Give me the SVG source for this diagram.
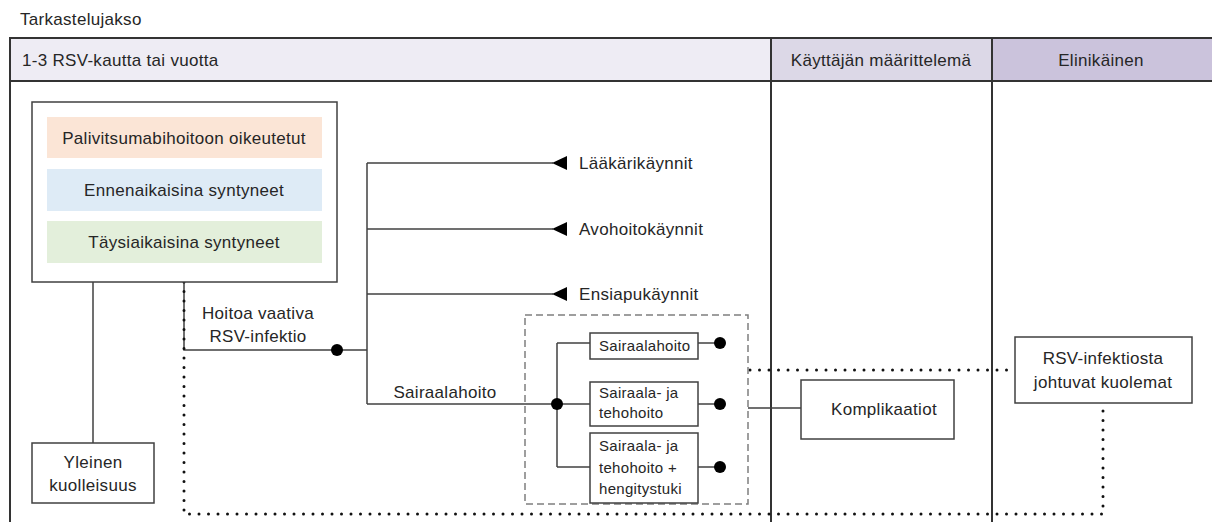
<svg xmlns="http://www.w3.org/2000/svg" width="1212" height="522" viewBox="0 0 1212 522">
<defs>
<style>
text{font-family:"Liberation Sans",Arial,sans-serif;font-size:17px;fill:#262626;letter-spacing:0.3px}
.sm{font-size:15px}
.c{text-anchor:middle}
.box{fill:#fff;stroke:#404040;stroke-width:1.5}
.ln{fill:none;stroke:#404040;stroke-width:1.5}
.tb{fill:none;stroke:#333;stroke-width:2}
.dot{fill:none;stroke:#111;stroke-width:3;stroke-linecap:round;stroke-dasharray:0 9.5}
.dash{fill:none;stroke:#7f7f7f;stroke-width:1.5;stroke-dasharray:7 4}
.end{fill:#000}
</style>
<marker id="tri" markerWidth="16" markerHeight="14" refX="1" refY="7" orient="auto" markerUnits="userSpaceOnUse">
<path d="M15,0 L0,7 L15,14 Z" fill="#000"/>
</marker>
</defs>

<text x="20" y="25">Tarkastelujakso</text>

<g id="table">
<rect x="10" y="38" width="761" height="43" fill="#eeecf4"/>
<rect x="771" y="38" width="221" height="43" fill="#dcd8e7"/>
<rect x="992" y="38" width="220" height="43" fill="#cbc3dc"/>
<line class="tb" x1="9" y1="38" x2="1212" y2="38"/>
<line class="tb" x1="9" y1="81" x2="1212" y2="81"/>
<line class="tb" x1="10" y1="37" x2="10" y2="522"/>
<line class="tb" x1="771" y1="38" x2="771" y2="522"/>
<line class="tb" x1="992" y1="38" x2="992" y2="522"/>
<text x="22" y="66">1-3 RSV-kautta tai vuotta</text>
<text class="c" x="881" y="66">Käyttäjän määrittelemä</text>
<text class="c" x="1101" y="66">Elinikäinen</text>
</g>

<g id="connectors">
<line class="ln" x1="93" y1="282" x2="93" y2="443"/>
<polyline class="ln" points="184,282 184,350 367,350"/>
<line class="ln" x1="367" y1="163" x2="367" y2="404"/>
<line class="ln" x1="367" y1="163" x2="553" y2="163" marker-end="url(#tri)"/>
<line class="ln" x1="367" y1="229" x2="553" y2="229" marker-end="url(#tri)"/>
<line class="ln" x1="367" y1="294" x2="553" y2="294" marker-end="url(#tri)"/>
<line class="ln" x1="367" y1="404" x2="557" y2="404"/>
<line class="ln" x1="557" y1="343" x2="557" y2="467"/>
<line class="ln" x1="557" y1="343" x2="590" y2="343"/>
<line class="ln" x1="557" y1="404" x2="590" y2="404"/>
<line class="ln" x1="557" y1="467" x2="590" y2="467"/>
<line class="ln" x1="698" y1="343" x2="720" y2="343"/>
<line class="ln" x1="698" y1="404" x2="720" y2="404"/>
<line class="ln" x1="698" y1="467" x2="720" y2="467"/>
<line class="ln" x1="748" y1="408" x2="801" y2="408"/>
<circle class="end" cx="337" cy="350" r="6"/>
<circle class="end" cx="557" cy="404" r="6"/>
<circle class="end" cx="720" cy="343" r="6"/>
<circle class="end" cx="720" cy="404" r="6"/>
<circle class="end" cx="720" cy="467" r="6"/>
<polyline class="dot" points="184,282 184,514 1103,514 1103,403"/>
<line class="dot" x1="750" y1="370" x2="1015" y2="370"/>
</g>

<g id="population">
<rect class="box" x="32" y="102" width="305" height="180"/>
<rect x="47" y="117" width="275" height="41" fill="#fbe5d6"/>
<rect x="47" y="169" width="275" height="42" fill="#deebf6"/>
<rect x="47" y="221" width="275" height="42" fill="#e3efdb"/>
<text class="c" x="184" y="144">Palivitsumabihoitoon oikeutetut</text>
<text class="c" x="184" y="196">Ennenaikaisina syntyneet</text>
<text class="c" x="184" y="248">Täysiaikaisina syntyneet</text>
</g>

<g id="yleinen">
<rect class="box" x="32" y="443" width="122" height="60"/>
<text class="c" x="93" y="468">Yleinen</text>
<text class="c" x="93" y="491">kuolleisuus</text>
</g>

<g id="infektio">
<text class="c" x="258" y="319">Hoitoa vaativa</text>
<text class="c" x="258" y="342">RSV-infektio</text>
</g>

<g id="laakari"><text x="579" y="169">Lääkärikäynnit</text></g>
<g id="avohoito"><text x="579" y="235">Avohoitokäynnit</text></g>
<g id="ensiapu"><text x="579" y="300">Ensiapukäynnit</text></g>
<g id="sairaala-label"><text class="c" x="445" y="398">Sairaalahoito</text></g>

<g id="hospital-group">
<rect class="dash" x="525" y="315" width="223" height="189"/>
</g>
<g id="sairaalahoito">
<rect class="box" x="590" y="333" width="108" height="26"/>
<text class="sm" x="599" y="351">Sairaalahoito</text>
</g>
<g id="teho">
<rect class="box" x="590" y="382" width="108" height="44"/>
<text class="sm" x="599" y="398">Sairaala- ja</text>
<text class="sm" x="599" y="418">tehohoito</text>
</g>
<g id="hengitys">
<rect class="box" x="590" y="433" width="108" height="70"/>
<text class="sm" x="599" y="451">Sairaala- ja</text>
<text class="sm" x="599" y="473">tehohoito +</text>
<text class="sm" x="599" y="494">hengitystuki</text>
</g>

<g id="komplikaatiot">
<rect class="box" x="801" y="380" width="153" height="59"/>
<text class="c" x="884" y="415">Komplikaatiot</text>
</g>

<g id="kuolemat">
<rect class="box" x="1015" y="337" width="177" height="66"/>
<text class="c" x="1103" y="364">RSV-infektiosta</text>
<text class="c" x="1103" y="388">johtuvat kuolemat</text>
</g>
</svg>
